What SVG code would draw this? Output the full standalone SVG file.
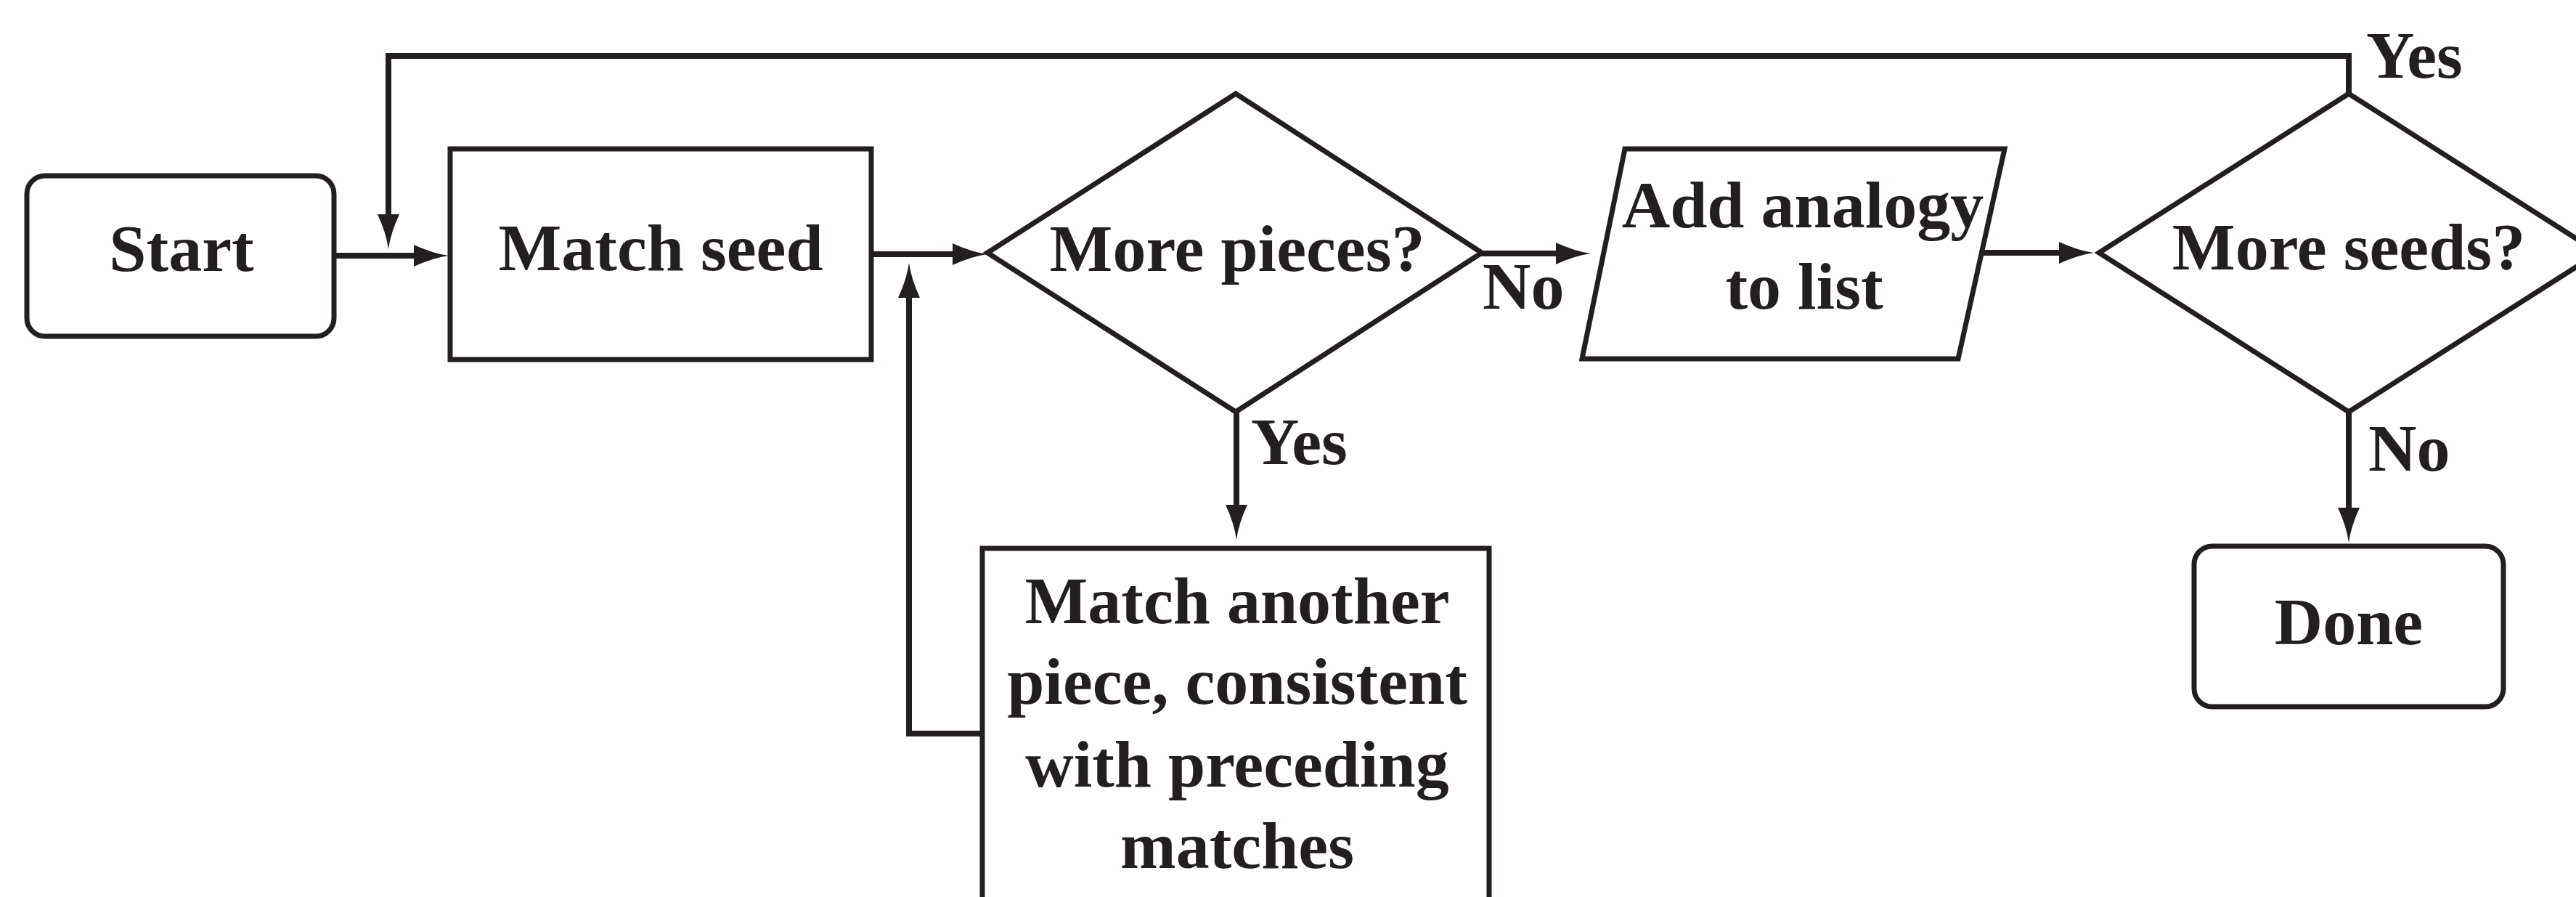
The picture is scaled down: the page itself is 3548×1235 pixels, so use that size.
<svg xmlns="http://www.w3.org/2000/svg" width="3548" height="1235" viewBox="0 0 3548 1235">
<defs>
<style>
.shape{fill:#fff;stroke:#231f20;stroke-width:7;stroke-linejoin:miter}
.conn{fill:none;stroke:#231f20;stroke-width:8;stroke-linejoin:miter}
text{font-family:"Liberation Serif","Times New Roman",serif;font-weight:bold;font-size:92px;fill:#231f20}
.c{text-anchor:middle}
</style>
<marker id="ah" markerUnits="userSpaceOnUse" viewBox="-10 -16 52 32" refX="0" refY="0" markerWidth="52" markerHeight="32" orient="auto">
<path d="M40,0 Q18,-3 -8,-15 L-8,15 Q18,3 40,0 Z" fill="#231f20"/>
</marker>
</defs>
<rect width="3548" height="1235" fill="#fff"/>
<g id="connectors">
<path class="conn" d="M460,352 H578" marker-end="url(#ah)"/>
<path class="conn" d="M3235,129 V77 H535 V303" marker-end="url(#ah)"/>
<path class="conn" d="M1200,350 H1320" marker-end="url(#ah)"/>
<path class="conn" d="M1353,1010 H1252 V402" marker-end="url(#ah)"/>
<path class="conn" d="M2040,349 H2151" marker-end="url(#ah)"/>
<path class="conn" d="M2729,348 H2844" marker-end="url(#ah)"/>
<path class="conn" d="M1703,567 V703" marker-end="url(#ah)"/>
<path class="conn" d="M3235,567 V707" marker-end="url(#ah)"/>
<text x="2042" y="425">No</text>
<text x="1723" y="639">Yes</text>
<text x="3259" y="107">Yes</text>
<text x="3262" y="648">No</text>
</g>
<g id="start">
<rect class="shape" x="37" y="242" width="423" height="221" rx="25"/>
<text class="c" x="250" y="373">Start</text>
</g>
<g id="match-seed">
<rect class="shape" x="620" y="205" width="580" height="290"/>
<text class="c" x="910" y="372">Match seed</text>
</g>
<g id="more-pieces">
<polygon class="shape" points="1360,348 1702,129 2041,348 1702,567"/>
<text class="c" x="1704" y="373">More pieces?</text>
</g>
<g id="add-analogy">
<polygon class="shape" points="2238,205 2761,205 2697,494 2179,494"/>
<text class="c" x="2483" y="313">Add analogy</text>
<text class="c" x="2485" y="425">to list</text>
</g>
<g id="more-seeds">
<polygon class="shape" points="2891,348 3235,129 3579,348 3235,567"/>
<text class="c" x="3235" y="371">More seeds?</text>
</g>
<g id="match-another">
<rect class="shape" x="1353" y="755" width="698" height="520"/>
<text class="c" x="1704" y="858">Match another</text>
<text class="c" x="1704" y="969">piece, consistent</text>
<text class="c" x="1704" y="1083">with preceding</text>
<text class="c" x="1704" y="1195">matches</text>
</g>
<g id="done">
<rect class="shape" x="3022" y="752" width="426" height="221" rx="25"/>
<text class="c" x="3235" y="887">Done</text>
</g>
</svg>
